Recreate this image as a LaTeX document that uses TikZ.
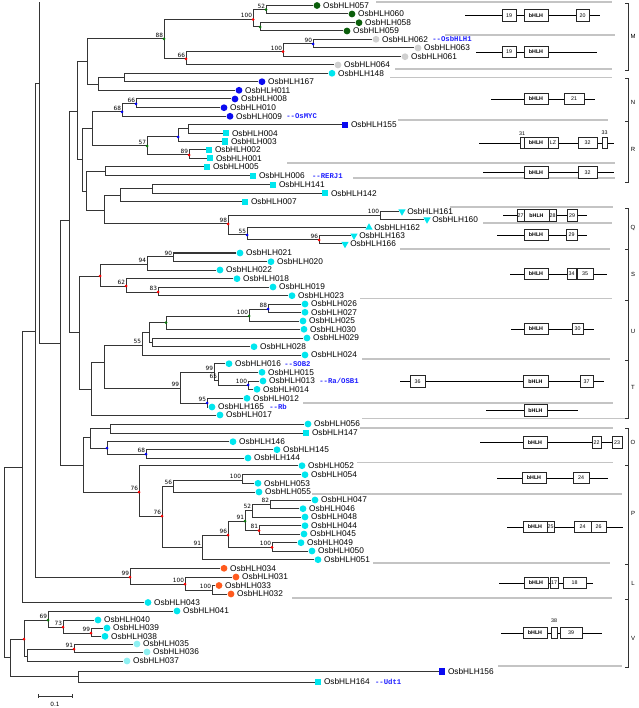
\documentclass[tikz,border=0pt]{standalone}
\usepackage{fontspec}
\setmainfont{Liberation Sans}
\newfontfamily\annofont{Liberation Mono}
\newfontfamily\bsfont{DejaVu Sans}
\usetikzlibrary{positioning,shapes.geometric}
\definecolor{treegray}{HTML}{353535}
\definecolor{sepgray}{HTML}{C4C4C4}
\definecolor{bhcyan}{HTML}{00E6EE}
\definecolor{bhpale}{HTML}{8EF0F2}
\definecolor{bhgreen}{HTML}{0B5E0B}
\definecolor{bhgray}{HTML}{D0D0D0}
\definecolor{bhblue}{HTML}{0A0AF0}
\definecolor{bhorange}{HTML}{FF5A1E}
\definecolor{annoblue}{HTML}{1E1EFF}
\definecolor{bsgreen}{HTML}{0B7A0B}
\newcommand{\bhlh}{\textbf{bHLH}}
\tikzset{
  br/.style={draw=treegray, line width=1pt},
  dotc/.style={circle, inner sep=0pt, minimum size=6.8pt, fill=#1},
  sqr/.style={rectangle, inner sep=0pt, minimum size=6.4pt, fill=#1},
  mgn/.style={dotc=bhgreen},
  mgy/.style={dotc=bhgray},
  mcy/.style={dotc=bhcyan},
  mpl/.style={dotc=bhpale},
  mbl/.style={dotc=bhblue},
  mor/.style={dotc=bhorange},
  sbl/.style={sqr=bhblue},
  scy/.style={sqr=bhcyan},
  tdn/.style={regular polygon, regular polygon sides=3, shape border rotate=180,
    fill=bhcyan, inner sep=0pt, minimum size=8.4pt},
  tup/.style={regular polygon, regular polygon sides=3,
    fill=bhcyan, inner sep=0pt, minimum size=8.4pt},
  lbl/.style={font=\fontsize{8.3}{9}\selectfont, anchor=west, inner sep=0pt, xshift=2.4pt},
  anno/.style={font=\annofont\bfseries\fontsize{7.3}{8}\selectfont, text=annoblue, inner sep=0pt},
  bsl/.style={font=\bsfont\fontsize{5.8}{6}\selectfont, anchor=south east, inner sep=0pt,
    xshift=-0.8pt, yshift=1.3pt},
  sep/.style={draw=sepgray, line width=1.2pt},
  bb/.style={draw=black, line width=0.8pt},
  dbox/.style={draw=black!85, line width=0.8pt, fill=white},
  dtxt/.style={font=\fontsize{5.3}{6}\selectfont, inner sep=0pt},
  brk/.style={draw=black!80, line width=0.7pt},
  grp/.style={font=\fontsize{6}{6}\selectfont, inner sep=0pt}
}
\begin{document}
\begin{tikzpicture}[x=1pt,y=-1pt]
\useasboundingbox (0,0) rectangle (638,708);

% inner nodes of the tree
\foreach \n/\x/\y in {r0/4/562, n22/22/467, n35/35.5/331, n39/39/84, top39/39/2,
  n60/60/343, n69/69/221, n77/77/112, n87/87/62, n88/164/39, n100a/253/19.5,
  n52/266/9.7, n58/260/27, n66a/186/59, n100b/283/51.7, n90/313/44, n98/98/85,
  n124/124/78, n82/82/160, n92/92/129, n68/122/112, n66b/136/104, n57/147/146,
  n178/178/137, n188/188/129, n89/189/155, n86/86/192, n105/105/172, n104/104/210.5,
  n120/120/195.5, n152/152/189, n98Q/228/224, n100Q/380/215.5, n55Q/247/235,
  n96Q/319/240, n79/79/332, n100S/100/276, n94/147/264, n90S/173/256.7, n62/126/286,
  n83/158/292, n91T/91/389, n104T/104/362, n55U/142/345.5, n149/149/332,
  nAg/166/322.7, n100U/249/316, n88U/268/309, n152U/152/342, n99a/180/388,
  n99b/214/372, n65/218/380, n100T/248/385, n95/207/403, n83O/83/465, n90O/90/437,
  n110/110/428.5, n107/107/448, n68O/146/454, n76a/139/492, n76b/162/516,
  n56/173/486, n100P/242/480, n91P/202/547, n96P/228/535, n91g/245/521,
  n52P/252/510, n82P/270/504.5, n81/259/530.5, n100P2/272/547.3, n99L/130/577,
  n100L/185/584, n100L2/212/590, n10/10/657, n24V/24/639, n69V/48/620, n73/63/627,
  n99V/91/633, n27V/27/656, n91V/74/649, n78/78/676}
  \coordinate (\n) at (\x,\y);

% branches between inner nodes
\foreach \a/\b in {r0/n22, r0/n10, n22/n35, n35/n39, n35/n99L, n39/top39, n39/n60,
  n60/n69, n60/n83O, n69/n77, n69/n79, n77/n87, n77/n82, n87/n88, n87/n98,
  n88/n100a, n88/n66a, n100a/n52, n100a/n58, n66a/n100b, n100b/n90, n98/n124,
  n82/n92, n82/n86, n92/n68, n92/n57, n68/n66b, n57/n178, n57/n89, n178/n188,
  n86/n105, n86/n104, n104/n120, n104/n98Q, n120/n152, n98Q/n100Q, n98Q/n55Q,
  n55Q/n96Q, n79/n100S, n79/n91T, n100S/n94, n100S/n62, n94/n90S, n62/n83,
  n91T/n104T, n104T/n55U, n104T/n99a, n55U/n149, n149/nAg, n149/n152U,
  nAg/n100U, n100U/n88U, n99a/n99b, n99a/n95, n99b/n65, n65/n100T, n83O/n90O,
  n83O/n76a, n90O/n110, n90O/n107, n107/n68O, n76a/n76b, n76b/n56, n76b/n91P,
  n56/n100P, n91P/n96P, n96P/n91g, n96P/n100P2, n91g/n52P, n91g/n81, n52P/n82P,
  n99L/n100L, n100L/n100L2, n10/n24V, n10/n78, n24V/n69V, n24V/n27V, n69V/n73,
  n73/n99V, n27V/n91V}
  \draw[br] (\a) |- (\b);

% leaves
\foreach \id/\x/\y/\s/\p in {057/317/5.5/mgn/n52, 060/352/14/mgn/n52,
  058/359/22.7/mgn/n58, 059/347/31/mgn/n58, 062/376/39.3/mgy/n90,
  063/418/48/mgy/n90, 061/405/56.7/mgy/n100b, 064/338/65/mgy/n66a,
  148/332/73.3/mcy/n124, 167/262/81.7/mbl/n124, 011/239/90.3/mbl/n98,
  008/235/99/mbl/n66b, 010/224/107.7/mbl/n66b, 009/230/116.3/mbl/n68,
  155/345/125/sbl/n188, 004/226/133.3/scy/n188, 003/225/141.7/scy/n178,
  002/209/150/scy/n89, 001/210/158.3/scy/n89, 005/207/167/scy/n105,
  006/253/176/scy/n105, 141/273/185/scy/n152, 142/325/193.3/scy/n152,
  007/245/202/scy/n120, 161/402/211.5/tdn/n100Q, 160/427/219.5/tdn/n100Q,
  162/369/227.5/tup/n55Q, 163/354/235.7/tdn/n96Q, 166/345/244/tdn/n96Q,
  021/240/253/mcy/n90S, 020/271/261.7/mcy/n90S, 022/220/270/mcy/n94,
  018/237/278.7/mcy/n62, 019/273/287/mcy/n83, 023/292/295.7/mcy/n83,
  026/305/304/mcy/n88U, 027/305/312.3/mcy/n88U, 025/303/321/mcy/n100U,
  030/304/329.3/mcy/nAg, 029/307/338/mcy/n152U, 028/254/346.7/mcy/n152U,
  024/305/355/mcy/n55U, 016/229/363.7/mcy/n99b, 015/262/372.3/mcy/n65,
  013/263/381/mcy/n100T, 014/257/389.3/mcy/n100T, 012/247/398.3/mcy/n95,
  165/212/407/mcy/n95, 017/220/415/mcy/n91T, 056/308/424/mcy/n110,
  147/306/433/scy/n110, 146/233/441.7/mcy/n107, 145/277/449.7/mcy/n68O,
  144/248/458/mcy/n68O, 052/302/465.7/mcy/n76a, 054/305/474.7/mcy/n100P,
  053/258/483.3/mcy/n100P, 055/259/492/mcy/n56, 047/315/500/mcy/n82P,
  046/303/508.7/mcy/n82P, 048/305/517/mcy/n52P, 044/305/525.7/mcy/n81,
  045/304/534/mcy/n81, 049/301/542.7/mcy/n100P2, 050/312/551/mcy/n100P2,
  051/318/559.7/mcy/n91P, 034/224/568.3/mor/n99L, 031/236/577/mor/n100L,
  033/219/585.5/mor/n100L2, 032/231/594/mor/n100L2, 043/148/602.5/mcy/n22,
  041/177/611/mcy/n69V, 040/98/620/mcy/n73, 039/107/628/mcy/n99V,
  038/105/636.3/mcy/n99V, 035/137/644/mpl/n91V, 036/147/652/mpl/n91V,
  037/127/661/mpl/n27V, 156/442/671.5/sbl/n78, 164/318/682/scy/n78}{
  \node[\s] (l\id) at (\x,\y) {};
  \draw[br] (\p) |- (l\id.west);
  \node[lbl] (t\id) at (l\id.east) {OsbHLH\id};
}

% known genes
\node[anno, right=4pt of t062] (a062) {-{}-OsbHLH1};
\node[anno, right=4pt of t009] (a009) {-{}-OsMYC};
\node[anno, right=7pt of t006] (a006) {-{}-RERJ1};
\node[anno, right=3pt of t016] (a016) {-{}-SOB2};
\node[anno, right=4pt of t013] (a013) {-{}-Ra/OSB1};
\node[anno, right=5pt of t165] (a165) {-{}-Rb};
\node[anno, right=5pt of t164] (a164) {-{}-Udt1};

% bootstrap dots and values
\foreach \n/\c in {n52/bsgreen, n100a/red, n58/bsgreen, n88/bsgreen, n66a/red,
  n100b/red, n90/blue, n66b/blue, n68/blue, n57/bsgreen, n178/blue, n89/red,
  n98Q/red, n55Q/blue, n96Q/red, n100S/red, n62/red, n83/red, nAg/bsgreen,
  n100U/bsgreen, n88U/blue, n100T/blue, n95/blue, n107/blue, n68O/blue, n76a/red,
  n76b/red, n96P/red, n91g/bsgreen, n81/red, n100P2/red, n99L/red, n100L/red,
  n24V/red, n69V/bsgreen, n73/red, n99V/red, n91V/red}
  \fill[\c] (\n) circle[radius=1.5];
\foreach \n/\t in {n52/52, n100a/100, n88/88, n66a/66, n100b/100, n90/90, n66b/66,
  n68/68, n57/57, n89/89, n98Q/98, n100Q/100, n55Q/55, n96Q/96, n94/94, n90S/90,
  n62/62, n83/83, n100U/100, n88U/88, n55U/55, n99a/99, n99b/99, n65/65,
  n100T/100, n95/95, n68O/68, n76a/76, n76b/76, n56/56, n100P/100, n91P/91,
  n96P/96, n91g/91, n52P/52, n82P/82, n81/81, n100P2/100, n99L/99, n100L/100,
  n100L2/100, n69V/69, n73/73, n99V/99, n91V/91}
  \node[bsl] at (\n) {\t};

% scale bar
\coordinate (sb1) at (38,696);
\coordinate (sb2) at (72,696);
\draw[br, line width=0.8pt] (sb1) -- (sb2);
\draw[br, line width=0.8pt] ([yshift=2pt]sb1) -- ([yshift=-2pt]sb1);
\draw[br, line width=0.8pt] ([yshift=2pt]sb2) -- ([yshift=-2pt]sb2);
\node[font=\bsfont\fontsize{5.8}{6}\selectfont, inner sep=0pt] (sbt) at (55,704) {0.1};

% row separators
\foreach \y/\a/\b in {2/376/612, 35/445/615, 69/395/612, 77.5/390/612, 120/398/608,
  163/287/615, 178/353/615, 207/450/613, 223/483/612, 249/400/610, 298.5/360/612,
  359/362/610, 403/303/613, 418.5/362/627, 428/360/613, 462.5/357/613,
  494/312/622, 563/373/610, 598/292/612, 666/498/622}
  \draw[sep] (\a,\y) -- (\b,\y);

% domain structures
\foreach \y/\a/\b in {15.5/465/600, 52/476/597, 99/491/595, 143/479/614,
  172.5/483/614, 215.5/503/587, 235/497/587, 274/510/607, 329/511/594,
  381.5/400/604, 410.5/486/578, 442.5/480/622, 478/497/608, 527/507/623,
  583/499/593, 633/501/602}
  \draw[bb] (\a,\y) -- (\b,\y);
\foreach \y/\a/\b/\t in {15.5/502/516/19, 15.5/524/548/\bhlh, 15.5/576/589/20,
  52/502/516/19, 52/524/548/\bhlh,
  99/524/548/\bhlh, 99/564/584/21,
  143/520/524/, 143/524/548/\bhlh, 143/548/558/LZ, 143/578/597/32, 143/602/607/,
  172.5/524/548/\bhlh, 172.5/578/597/32,
  215.5/517/524/27, 215.5/524/549/\bhlh, 215.5/549/556/28, 215.5/567/577/29,
  235/524/548/\bhlh, 235/566/577/29,
  274/524/548/\bhlh, 274/567/576/34, 274/577/593/35,
  329/524/548/\bhlh, 329/572/583/30,
  381.5/410/425/36, 381.5/523/548/\bhlh, 381.5/580/593/37,
  410.5/524/547/\bhlh,
  442.5/523/547/\bhlh, 442.5/592/601/22, 442.5/612/622/23,
  478/522/546/\bhlh, 478/573/589/24,
  527/523/547/\bhlh, 527/547/554/25, 527/574/591/24, 527/591/606/26,
  583/524/548/\bhlh, 583/550/558/17, 583/563/586/18,
  633/523/547/\bhlh, 633/551/557/, 633/560/582/39}{
  \draw[dbox] (\a,\y-5.8) rectangle (\b,\y+5.8);
  \node[dtxt] at ({(\a+\b)/2},\y) {\t};
}
\node[dtxt] (d31) at (522,134) {31};
\node[dtxt] (d33) at (604.5,133) {33};
\node[dtxt] (d38) at (554,621) {38};

% subfamily brackets
\foreach \ya/\yb in {3/70, 78/121, 121/182, 208/249, 249/300, 300/360, 360/418,
  428/465, 465/564, 564/599, 599/667}
  \draw[brk] (625,\ya) -- (628,\ya) -- (628,\yb) -- (625,\yb);
\foreach \g/\y in {M/36, N/102, R/149, Q/228, S/274, U/331, T/387, O/442,
  P/513, L/583, V/638}
  \node[grp] (g\g) at (633,\y) {\g};
\end{tikzpicture}
\end{document}
